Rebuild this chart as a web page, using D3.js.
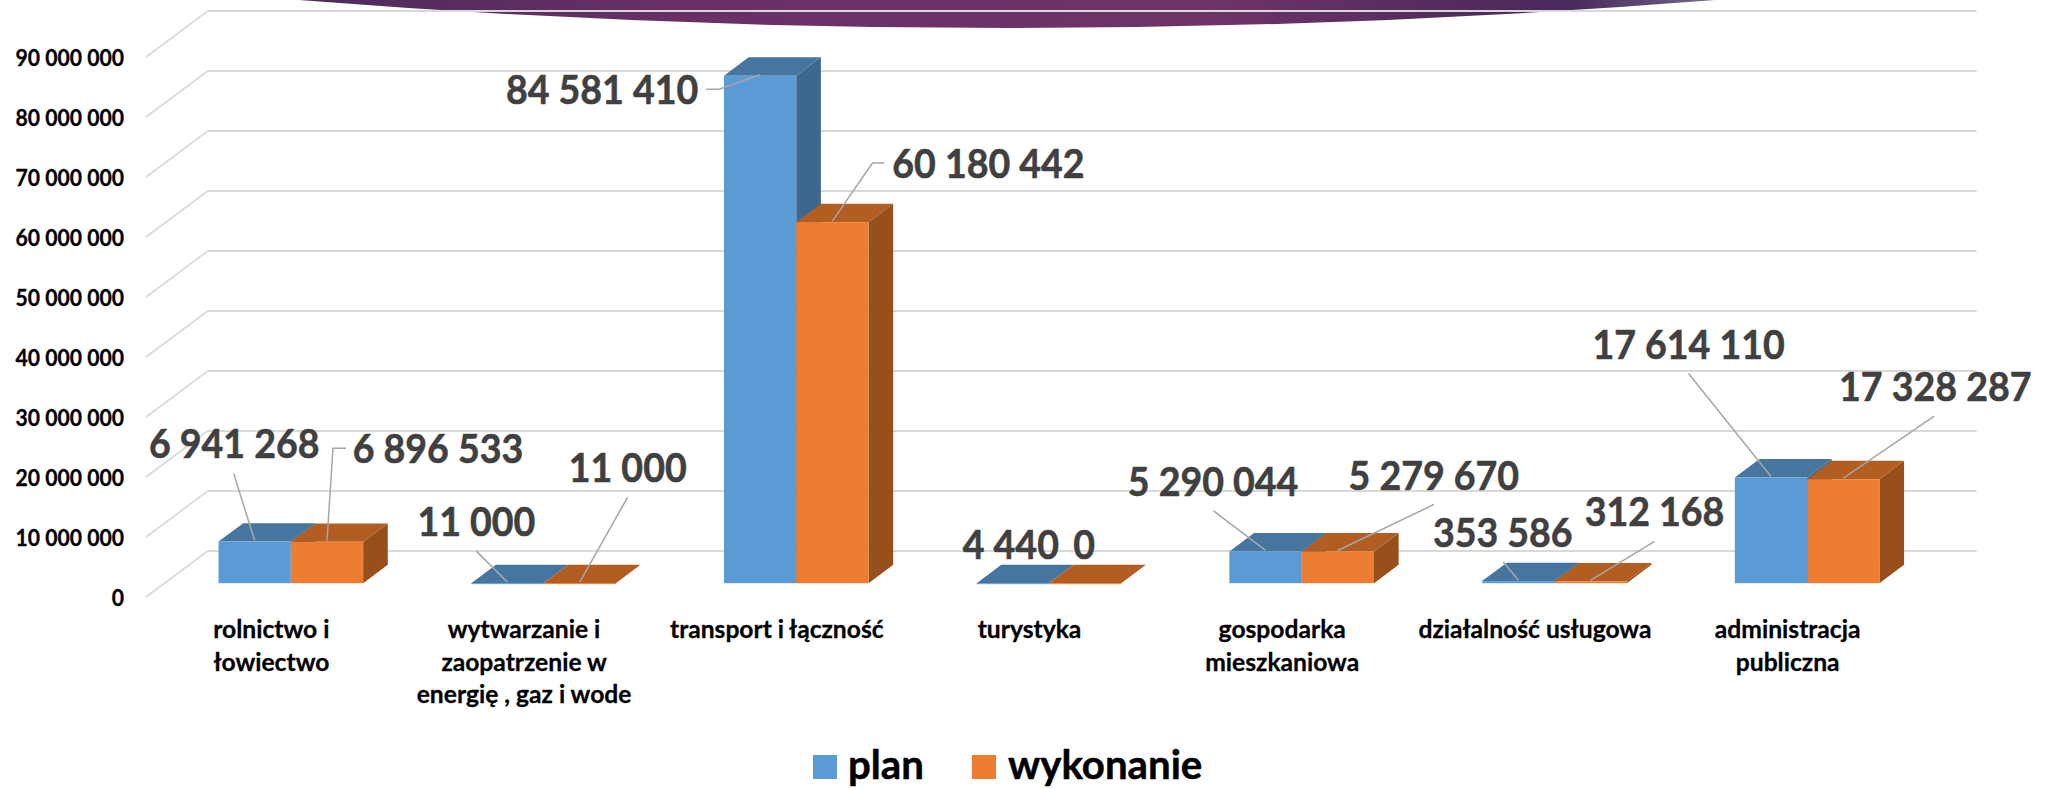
<!DOCTYPE html>
<html><head><meta charset="utf-8">
<script src="https://cdn.jsdelivr.net/npm/d3@7"></script>
<style>html,body{margin:0;padding:0;background:#fff;overflow:hidden}svg{display:block}text{font-family:Lato,sans-serif;font-weight:700}</style>
</head><body><svg id="c" width="2054" height="789"></svg>
<script>
const categories = [["rolnictwo i","łowiectwo"],["wytwarzanie i","zaopatrzenie w","energię , gaz i wode"],["transport i łączność"],["turystyka"],["gospodarka","mieszkaniowa"],["działalność usługowa"],["administracja","publiczna"]];
const seriesNames = ["plan","wykonanie"];
const plan = [6941268,11000,84581410,4440,5290044,353586,17614110];
const wykonanie = [6896533,11000,60180442,0,5279670,312168,17328287];
const tickValues = [0,10000000,20000000,30000000,40000000,50000000,60000000,70000000,80000000,90000000];

// hand placement of data labels, as offsets from the top-centre of each bar: [text dx, baseline dy, leader points...]
const planLabelOffsets = [
 [-20.5,-84,[-21,-68]],[-31,-47,[-31,-32]],[-158,28.6,[-54,13.6],[-41,13.6]],[-2,-24.6],
 [-52.5,-55.5,[-52,-40.5]],[-15.5,-34,[-15,-19]],[-82.4,-119,[-82.4,-104]]];
const wykonanieLabelOffsets = [
 [111,-79,[19,-93.5],[6,-93.5]],[48,-101,[48,-86]],[156,-44,[52,-59],[40,-59]],[-1,-24.6],
 [96,-62,[96,-47]],[64,-55,[64,-40]],[92,-78,[91,-63]]];

const svg = d3.select("#c");
const fmt = d3.formatLocale({decimal:",",thousands:" ",grouping:[3],currency:["",""]}).format(",d");

// narrow the glyphs and thicken them a little, to approach the condensed heavy look of the original face
function squeeze(sel,k,stroke){
  sel.each(function(){
    const len = this.getComputedTextLength();
    d3.select(this).attr("textLength",len*k).attr("lengthAdjust","spacingAndGlyphs");
  });
  if(stroke) sel.attr("stroke",function(){return d3.select(this).attr("fill");}).attr("stroke-width",stroke).attr("stroke-linejoin","round");
}

const depth = {dx:61.6, dy:-46};            // full floor depth
const barZ = {front:0.3, back:0.7};
const x = d3.scaleBand().domain(d3.range(categories.length)).range([146,1915]);
const groupW = 144.6;
const x1 = d3.scaleBand().domain(seriesNames).range([(x.bandwidth()-groupW)/2,(x.bandwidth()+groupW)/2]);
const y = d3.scaleLinear().domain([0,90000000]).range([597,57]);
const px = (xv,z)=>xv+depth.dx*z;
const py = (v,z)=>y(v)+depth.dy*z;

// banner
const defs = svg.append("defs");
const g = defs.append("linearGradient").attr("id","ban").attr("gradientUnits","userSpaceOnUse")
  .attr("x1",299).attr("x2",1715).attr("y1",0).attr("y2",0);
[[0,"#4c2b5e"],[0.28,"#6a3066"],[0.65,"#6e3367"],[0.8,"#552c5f"],[0.9,"#4a2a5c"],[0.95,"#5a4a75"],[1,"#75688f"]]
 .forEach(s=>g.append("stop").attr("offset",s[0]).attr("stop-color",s[1]));
svg.append("path").attr("d","M299,0 Q1007,56 1715,0 Z").attr("fill","url(#ban)");

// walls and grid
const grid = svg.append("g").attr("fill","none").attr("stroke","#d9d9d9");
tickValues.forEach(t=>{
  grid.append("path").attr("stroke-width",1.6)
    .attr("d",d3.line()([[px(x.range()[0],0),py(t,0)],[px(x.range()[0],1),py(t,1)]]));
  grid.append("path").attr("stroke-width",2.2)
    .attr("d",d3.line()([[px(x.range()[0],1),py(t,1)],[px(x.range()[1],1),py(t,1)]]));
});

// y axis
const axY = svg.append("g").attr("transform","translate(124,0)")
  .call(d3.axisLeft(y).tickValues(tickValues).tickFormat(fmt).tickSize(0).tickPadding(0));
axY.select(".domain").remove();
axY.selectAll("text").attr("fill","#000").attr("font-size",23).attr("dy","0.35em")
   .style("font-family","Lato,sans-serif").style("font-weight",700).call(squeeze,0.92,0.3);

// x axis labels
const axX = svg.append("g").attr("transform","translate(-1,0)")
  .call(d3.axisBottom(x).tickSize(0).tickFormat(""));
axX.select(".domain").remove();
axX.selectAll(".tick").each(function(d){
  d3.select(this).select("text").remove();
  d3.select(this).selectAll("text.cat").data(categories[d]).join("text").attr("class","cat")
    .attr("text-anchor","middle").attr("x",0).attr("y",(s,i)=>638+i*32.6)
    .attr("fill","#000").attr("font-size",25).text(s=>s);
});
axX.selectAll("text.cat").call(squeeze,0.985,0.3);

// bars
const colors = {plan:{front:"#5B9BD5",top:"#46759F",side:"#3C688F"},wykonanie:{front:"#ED7D31",top:"#B25E22",side:"#97501C"}};
const values = {plan:plan,wykonanie:wykonanie};
const line = d3.line();
const bars = svg.append("g");
categories.forEach((c,i)=>{
  seriesNames.forEach(s=>{
    const v = values[s][i], col = colors[s];
    const x0 = x(i)+x1(s), x2 = x0+x1.bandwidth();
    const f=barZ.front,b=barZ.back;
    const gb = bars.append("g");
    gb.append("path").attr("fill",col.side).attr("d",line([[px(x2,f),py(0,f)],[px(x2,b),py(0,b)],[px(x2,b),py(v,b)],[px(x2,f),py(v,f)]])+"Z");
    gb.append("path").attr("fill",col.top).attr("d",line([[px(x0,f),py(v,f)],[px(x0,b),py(v,b)],[px(x2,b),py(v,b)],[px(x2,f),py(v,f)]])+"Z");
    gb.append("rect").attr("fill",col.front).attr("x",px(x0,f)).attr("width",x1.bandwidth())
      .attr("y",py(v,f)).attr("height",Math.max(py(0,f)-py(v,f),1));
  });
});

// data labels with leaders
const labels = svg.append("g");
seriesNames.forEach(s=>{
  const off = s==="plan"?planLabelOffsets:wykonanieLabelOffsets;
  values[s].forEach((v,i)=>{
    const ax = px(x(i)+x1(s)+x1.bandwidth()/2,barZ.front), ay = py(v,barZ.front);
    const o = off[i], pts = o.slice(2);
    if(pts.length){
      const p = pts.map(q=>[ax+q[0],ay+q[1]]).concat([[ax,ay-1]]);
      labels.append("path").attr("fill","none").attr("stroke","#a6a6a6").attr("stroke-width",1.5).attr("d",line(p));
    }
    labels.append("text").attr("class","val").attr("x",ax+o[0]).attr("y",ay+o[1]).attr("text-anchor","middle")
      .attr("fill","#404040").attr("font-size",41).text(fmt(v));
  });
});
labels.selectAll("text.val").call(squeeze,0.915,0.6);

// legend
const legendX = [[813,848],[972,1008]];
const leg = svg.append("g");
seriesNames.forEach((s,i)=>{
  leg.append("rect").attr("x",legendX[i][0]).attr("y",755).attr("width",24).attr("height",24).attr("fill",colors[s].front);
  leg.append("text").attr("class","lg").attr("x",legendX[i][1]).attr("y",779).attr("font-size",41).attr("fill","#000").text(s);
});
leg.selectAll("text.lg").call(squeeze,0.98,0.5);
</script></body></html>
